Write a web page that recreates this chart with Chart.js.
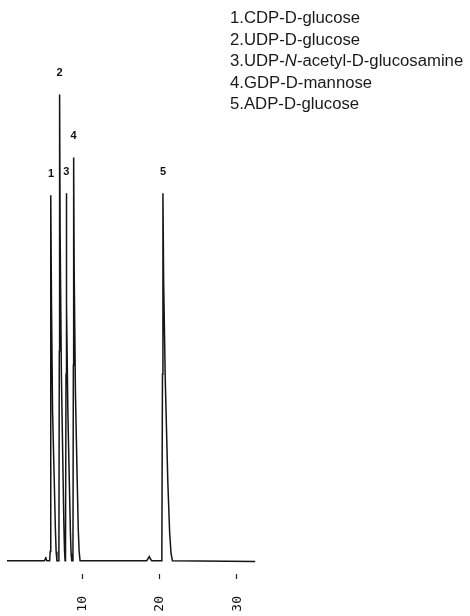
<!DOCTYPE html>
<html>
<head>
<meta charset="utf-8">
<script src="https://cdn.jsdelivr.net/npm/chart.js@4.4.1/dist/chart.umd.min.js"></script>
<style>
  body { margin: 0; background: #fff; }
  #chromatogram { display: block; }
</style>
</head>
<body>
<canvas id="chromatogram" width="470" height="616"></canvas>
<script>
// retention time (min) and detector signal (peak 2 = 100)
const TIME = [
  0.25, 5.10, 5.20, 5.27, 5.34, 5.45,
  5.78, 5.85, 5.90, 5.95, 6.02, 6.16, 6.38, 6.52, 6.62, 6.72,
  6.92, 6.98, 7.03, 7.07, 7.14, 7.30, 7.50, 7.62, 7.71, 7.78,
  7.81, 7.86, 7.90, 7.93, 8.00, 8.14, 8.34, 8.47, 8.56, 8.64,
  8.74, 8.80, 8.85, 8.89, 8.96, 9.12, 9.34, 9.48, 9.60, 9.72,
  18.35, 18.50, 18.68, 18.85, 19.00,
  20.22, 20.31, 20.39, 20.45, 20.54, 20.75, 21.08, 21.32, 21.50, 21.68,
  32.40
];
const SIGNAL = [
  0, 0, 0.3, 0.8, 0.2, 0,
  0, 2, 40, 78.4, 55, 32, 17, 7, 2, 0,
  0, 2, 45, 100, 70, 40, 20, 8, 2, 0,
  0, 2, 40, 78.8, 55, 32, 16, 6, 1.5, 0,
  0, 2, 42, 86.5, 62, 36, 18, 7, 2, 0,
  0, 0.4, 0.9, 0.3, 0,
  0, 2, 40, 78.8, 60, 39, 17, 6, 1.5, 0,
  -0.15
];

const PEAK_NUMBERS = ["1", "2", "3", "4", "5"];
const PEAK_TIMES = [5.95, 7.07, 7.93, 8.89, 20.45];
const PEAK_HEIGHTS = [78.4, 100, 78.8, 86.5, 78.8];

const COMPOUNDS = [
  "CDP-D-glucose",
  "UDP-D-glucose",
  "UDP-*N*-acetyl-D-glucosamine",
  "GDP-D-mannose",
  "ADP-D-glucose"
];

const X_TICKS = [10, 20, 30];

// peak numbers above each apex
const peakLabels = {
  id: "peakLabels",
  afterDatasetsDraw(chart) {
    const ctx = chart.ctx;
    const xs = chart.scales.x, ys = chart.scales.y;
    ctx.save();
    ctx.font = "bold 11px 'Liberation Sans', Arial, sans-serif";
    ctx.fillStyle = "#111";
    ctx.textAlign = "center";
    ctx.textBaseline = "middle";
    PEAK_NUMBERS.forEach((n, i) => {
      const x = xs.getPixelForValue(PEAK_TIMES[i]);
      const y = ys.getPixelForValue(PEAK_HEIGHTS[i]) - 21.5;
      ctx.fillText(n, x, y);
    });
    ctx.restore();
  }
};

// compound list in the top right corner (slightly wide type, as printed)
const compoundList = {
  id: "compoundList",
  afterDraw(chart) {
    const ctx = chart.ctx;
    ctx.save();
    ctx.fillStyle = "#1a1a1a";
    ctx.textBaseline = "alphabetic";
    ctx.textAlign = "left";
    ctx.translate(230, 0);
    ctx.scale(1.045, 1);
    COMPOUNDS.forEach((name, i) => {
      let x = 0;
      const y = 23 + i * 21.5;
      const parts = (i + 1 + "." + name).split("*");
      parts.forEach((part, j) => {
        ctx.font = (j % 2 ? "italic " : "") + "16px 'Liberation Sans', Arial, sans-serif";
        ctx.fillText(part, x, y);
        x += ctx.measureText(part).width;
      });
    });
    ctx.restore();
  }
};

const ctx = document.getElementById("chromatogram").getContext("2d");
new Chart(ctx, {
  type: "line",
  data: {
    datasets: [
      {
        data: TIME.map((t, i) => ({ x: t, y: SIGNAL[i] })),
        borderColor: "#151515",
        borderWidth: 1.5,
        pointRadius: 0,
        tension: 0,
        fill: false,
      },
    ],
  },
  options: {
    responsive: false,
    animation: false,
    layout: { padding: { left: 5, right: 214, top: 60, bottom: 0 } },
    plugins: {
      legend: { display: false },
      tooltip: { enabled: false },
    },
    scales: {
      x: {
        type: "linear",
        min: 0,
        max: 32.5,
        border: { display: false },
        grid: {
          drawOnChartArea: false,
          drawTicks: true,
          tickLength: 5,
          tickColor: "#222",
          tickWidth: 1.2,
        },
        afterBuildTicks: (scale) => {
          scale.ticks = X_TICKS.map((v) => ({ value: v }));
        },
        afterFit: (scale) => {
          scale.height = 42;
        },
        ticks: {
          autoSkip: false,
          minRotation: 90,
          maxRotation: 90,
          padding: 17,
          labelOffset: 0.5,
          color: "#111",
          font: { family: "'DejaVu Sans Mono', monospace", size: 13 },
        },
      },
      y: {
        display: false,
        min: -2.85,
        max: 107.4,
      },
    },
  },
  plugins: [peakLabels, compoundList],
});
</script>
</body>
</html>
